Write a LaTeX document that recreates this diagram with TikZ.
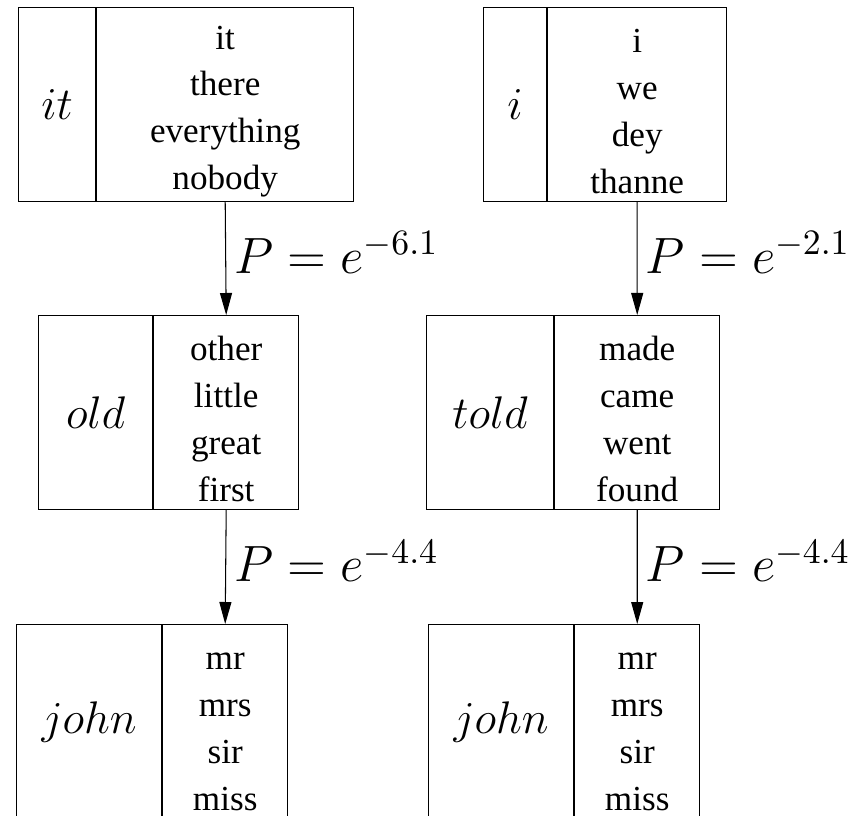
\RequirePackage{fix-cm}
\documentclass[tikz,border=0pt]{standalone}
\usepackage[no-math]{fontspec}
\setmainfont{Liberation Serif}
\usetikzlibrary{positioning,arrows.meta}
\newcommand{\topgap}{\rule{0pt}{10.5pt}}
\tikzset{
  keycell/.style={draw, line width=0.3pt, inner sep=0pt, minimum height=1.94cm, font=\fontsize{13}{15}\selectfont},
  listcell/.style={draw, line width=0.3pt, inner sep=0pt, minimum height=1.94cm, align=center, font=\fontsize{10}{13.3}\selectfont},
  arrow/.style={-{Triangle[length=2.2mm, width=1.2mm]}, line width=0.3pt},
  prob/.style={right, inner sep=0pt, xshift=0.8mm, yshift=0.6mm, font=\fontsize{14.5}{16}\selectfont}
}

\begin{document}
\begin{tikzpicture}[x=0.01cm, y=-0.01cm]
  \clip (0,0) rectangle (865,815);
  % left chain
  \node[keycell, minimum width=0.77cm, anchor=north west] (itkey) at (18,7) {$it$};
  \node[listcell, minimum width=2.57cm, right=0pt of itkey] (itlist) {\topgap it\\there\\everything\\nobody};
  \node[keycell, minimum width=1.14cm, anchor=north west] (oldkey) at (38,315) {$old$};
  \node[listcell, minimum width=1.45cm, right=0pt of oldkey] (oldlist) {\topgap other\\little\\great\\first};
  \node[keycell, minimum width=1.45cm, anchor=north west] (johnkeyA) at (16,624) {$john$};
  \node[listcell, minimum width=1.25cm, right=0pt of johnkeyA] (johnlistA) {\topgap mr\\mrs\\sir\\miss};

  % right chain
  \node[keycell, minimum width=0.63cm, anchor=north west] (ikey) at (483,7) {$i$};
  \node[listcell, minimum width=1.79cm, right=0pt of ikey] (ilist) {\topgap i\\we\\dey\\thanne};
  \node[keycell, minimum width=1.27cm, anchor=north west] (toldkey) at (426,315) {$told$};
  \node[listcell, minimum width=1.65cm, right=0pt of toldkey] (toldlist) {\topgap made\\came\\went\\found};
  \node[keycell, minimum width=1.45cm, anchor=north west] (johnkeyB) at (428,624) {$john$};
  \node[listcell, minimum width=1.25cm, right=0pt of johnkeyB] (johnlistB) {\topgap mr\\mrs\\sir\\miss};

  \draw[arrow] (itlist.south) -- node[prob] {$P=e^{-6.1}$} (oldlist.north);
  \draw[arrow] (oldlist.south) -- node[prob] {$P=e^{-4.4}$} (johnlistA.north);
  \draw[arrow] (ilist.south) -- node[prob] {$P=e^{-2.1}$} (toldlist.north);
  \draw[arrow] (toldlist.south) -- node[prob] {$P=e^{-4.4}$} (johnlistB.north);
\end{tikzpicture}
\end{document}
